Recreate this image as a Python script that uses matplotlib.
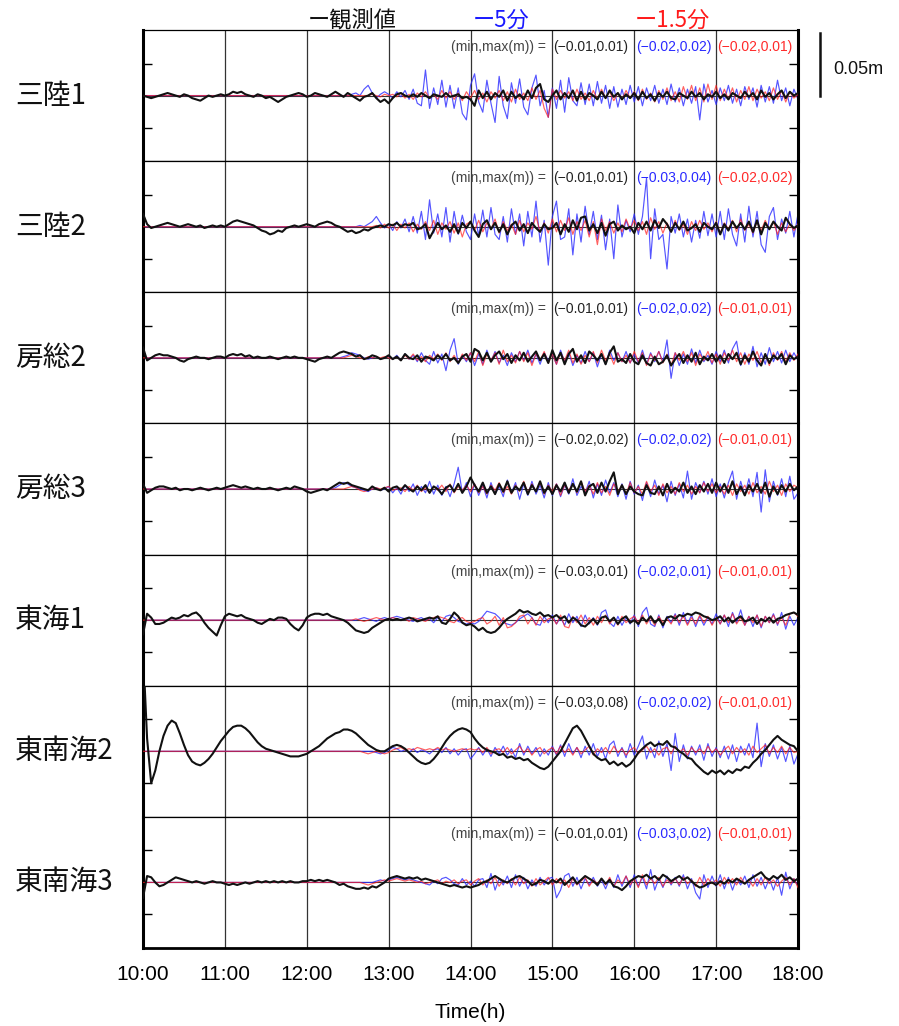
import numpy as np
import matplotlib.pyplot as plt
from matplotlib.transforms import blended_transform_factory

# sampling: every 3 minutes from 10:00 to 18:00 (values in mm)
T0 = 10.0
STEP_H = 0.05

STATIONS = ["三陸1", "三陸2", "房総2", "房総3", "東海1", "東南海2", "東南海3"]
OBS_RANGE = ["(−0.01,0.01)", "(−0.01,0.01)", "(−0.01,0.01)", "(−0.02,0.02)",
             "(−0.03,0.01)", "(−0.03,0.08)", "(−0.01,0.01)"]
MIN5_RANGE = ["(−0.02,0.02)", "(−0.03,0.04)", "(−0.02,0.02)", "(−0.02,0.02)",
              "(−0.02,0.01)", "(−0.02,0.02)", "(−0.03,0.02)"]
MIN15_RANGE = ["(−0.02,0.01)", "(−0.02,0.02)", "(−0.01,0.01)", "(−0.01,0.01)",
               "(−0.01,0.01)", "(−0.01,0.01)", "(−0.01,0.01)"]
TICK_LABELS = ["10:00", "11:00", "12:00", "13:00", "14:00", "15:00", "16:00", "17:00", "18:00"]

# ---- 三陸1 ----
sanriku1_obs = [
    0, -1, -2, -1, 0, 1, 2, 1, 0, -1, 1, 0, -2, -3, -4, -2, 0, -1, 0, 1,
    0, 1, 3, 2, 3, 1, 0, -1, 1, 0, -2, -1, -3, -5, -3, -1, 0, 1, 2, 1,
    -1, 0, 2, 1, 0, -1, 1, 3, 1, -1, 2, 0, -2, -4, -1, 0, 2, -2, -5, -3,
    -6, -2, 1, 2, 0, -1, 1, -1, 2, 0, -2, 1, 0, -1, 2, -1, 0, 1, -2, -1,
    -3, -8, 4, -2, 3, -3, 2, -1, 4, -4, 3, -2, 1, -3, 4, -2, 6, 9, -3, -5,
    0, 4, -3, 2, -2, 4, -4, 3, -3, 2, 0, -3, 3, -2, 4, -1, 2, -3, 1, -2,
    2, -3, 3, -2, 1, -4, 2, -1, 3, -2, -3, 2, 0, -2, 3, -1, 2, -3, 1, -1,
    3, -2, 1, -3, 2, 0, -2, 3, -1, 2, -3, 4, -1, 2, -3, 1, 4, -2, 3, 0, 2,
]
sanriku1_5min = [
    0, 0, 0, 0, 0, 0, 0, 0, 0, 0, 0, 0, 0, 0, 0, 0, 0, 0, 0, 0,
    0, 0, 0, 0, 0, 0, 0, 0, 0, 0, 0, 0, 0, 0, 0, 0, 0, 0, 0, 0,
    0, 0, 0, 0, 0, 0, 0, 0, 0, 0, 0, 1, 2, 0, 5, 8, 2, -2, 1, 3,
    1, -2, 3, -1, 4, -3, 5, -6, -8, 20, -10, 6, -7, 12, -9, 8, -10, 6, -14, -19,
    8, 17, -5, -13, 12, -6, -21, 15, -8, -18, 10, -6, 13, -9, -15, 6, 16, -8, 4, -17,
    6, -10, 12, -13, 14, -4, -8, 10, -7, 9, -8, 11, -6, 8, -10, 7, -9, 5, -7, 8,
    -5, 7, -8, 6, -4, 8, -6, 5, -7, 9, -5, 6, -8, 5, -6, 7, -19, 9, -5, 4,
    -7, 6, -4, 8, -6, 5, -8, 7, -3, 6, -9, 8, -5, 7, -6, 12, -4, 6, -8, 5, -3,
]
sanriku1_15min = [
    0, 0, 0, 0, 0, 0, 0, 0, 0, 0, 0, 0, 0, 0, 0, 0, 0, 0, 0, 0,
    0, 0, 0, 0, 0, 0, 0, 0, 0, 0, 0, 0, 0, 0, 0, 0, 0, 0, 0, 0,
    0, 0, 0, 0, 0, 0, 0, 0, 0, 0, 0, 0, 0, 0, 0, 0, 1, 0, -1, 1,
    0, 1, -1, 2, -2, 1, -3, 2, -1, 3, -2, 1, -3, 4, -2, 3, -3, 2, -4, 3,
    -2, 4, -3, 2, -5, 3, -2, 4, -4, 3, -5, 5, -3, 2, -4, 6, -3, 4, -10, -17,
    5, -3, 4, -2, 3, -4, 5, -3, 2, -4, 4, -3, 5, -2, 3, -4, 2, -3, 4, -2,
    3, -4, 5, -3, 2, -5, 4, -3, 6, -4, 3, -5, 7, -3, 8, -4, 6, -5, 9, -3,
    8, -4, 5, -3, 6, -5, 4, -3, 7, -4, 5, -2, 3, -4, 6, -3, 4, -5, 3, -2, 1,
]

# ---- 三陸2 ----
sanriku2_obs = [
    10, 2, -1, 0, 1, 2, 3, 2, 1, 0, 1, 2, 1, 0, 1, -1, 0, 1, 0, 1,
    0, 2, 4, 5, 4, 3, 2, 1, -1, -3, -4, -6, -5, -3, -4, -1, 0, 1, 0, 1,
    2, 1, 0, 2, 3, 4, 3, 1, 0, -2, -4, -3, -5, -4, -2, -3, -1, 0, 1, 0,
    2, 1, 3, 0, 2, 1, 3, -2, -1, 2, -9, -3, 3, -2, 1, -4, 2, -5, 3, -1,
    4, -3, -8, 2, 5, -2, 3, -4, 2, -6, 1, 4, -3, 2, -5, 3, -1, -4, 2, -2,
    -1, 3, -6, 2, -4, 5, -2, 7, 8, -3, 2, -5, 3, -7, 2, 4, -3, 1, -2, 0,
    -5, 3, -2, 4, -3, 5, -1, 6, 2, -4, 3, -2, 4, -3, -1, 2, -4, 3, 0, -2,
    3, -6, 2, -3, 4, -1, 3, -2, 4, -4, 5, -6, 3, -2, 4, 0, -3, 7, 2, -1, 1,
]
sanriku2_5min = [
    0, 0, 0, 0, 0, 0, 0, 0, 0, 0, 0, 0, 0, 0, 0, 0, 0, 0, 0, 0,
    0, 0, 0, 0, 0, 0, 0, 0, 0, 0, 0, 0, 0, 0, 0, 0, 0, 0, 0, 0,
    0, 0, 0, 0, 0, 0, 0, 0, 0, 0, 0, 0, 0, 1, 0, 2, 4, 8, 3, -1,
    2, -3, 4, -1, 6, -4, 8, -5, 12, -10, 21, -5, 10, -8, 15, -12, 12, -6, 9, -4,
    -10, 10, -7, 13, -8, 15, -6, -10, 8, -12, 14, -6, 10, -15, 12, -8, 20, -12, 5, -30,
    8, 20, -10, -8, 14, -22, 10, -12, 16, -6, 12, -10, 9, -18, 6, -25, 17, -8, 5, -4,
    10, -6, 8, 38, -25, 14, -10, -6, -33, 8, -5, 10, -8, 6, -12, 5, -9, 12, -7, 10,
    -8, 12, -10, 14, -6, -15, 10, -12, 16, -8, 12, -14, -20, 8, 15, -10, 6, -5, 12, -8, 10,
]
sanriku2_15min = [
    0, 0, 0, 0, 0, 0, 0, 0, 0, 0, 0, 0, 0, 0, 0, 0, 0, 0, 0, 0,
    0, 0, 0, 0, 0, 0, 0, 0, 0, 0, 0, 0, 0, 0, 0, 0, 0, 0, 0, 0,
    0, 0, 0, 0, 0, 0, 0, 0, 0, 0, 0, 0, 0, 0, 0, 0, 0, 1, -1, 2,
    -1, 2, -3, 2, -1, 3, -4, 2, -2, 4, -3, 5, -6, 3, -2, 4, -5, 3, -8, 2,
    4, -3, 5, -4, 3, -2, 6, -5, 4, -3, 2, -6, 5, -4, 3, -2, 8, -4, 3, -5,
    6, -4, 5, -3, 7, -6, 4, -3, 5, -8, 4, -14, 6, -3, 4, -5, 3, -4, 6, -2,
    5, -3, 4, -6, 7, -2, 4, -5, 3, -4, 5, -3, 2, -6, 4, -3, 5, -2, 3, -4,
    4, -5, 3, -2, 5, -4, 6, -3, 2, -5, 4, -3, 5, -2, 4, -6, 3, -4, 2, -3, 2,
]

# ---- 房総2 ----
boso2_obs = [
    8, -2, 0, 2, 3, 2, 2, 1, 0, -2, -3, -1, 0, 1, 0, 0, -1, 0, 1, 1,
    0, 2, 3, 2, 3, 1, 2, 0, 1, 0, 0, 1, 0, -1, 0, 1, 0, 1, 0, 0,
    -1, -2, -3, -1, 0, 1, 0, 2, 4, 5, 4, 3, 1, 2, -1, 0, 2, 1, -1, 0,
    2, -1, 1, -2, 3, 0, -1, 2, -3, 1, 0, -2, 2, -1, 3, -2, 0, -4, 1, 3,
    -3, 7, 5, -2, 4, -3, 2, 5, -1, 3, -4, 2, -2, 4, -3, 1, 5, -2, 3, -4,
    6, -2, 4, -5, 3, 7, -3, 2, -4, 5, 2, -2, 3, -5, 4, 9, -3, -1, -4, 3,
    -3, -5, 2, -4, -6, 1, -5, -3, 2, -6, -1, 3, -4, 2, -3, 4, -5, 1, -2, 3,
    -3, 2, -4, 3, -1, 4, -5, 2, -3, 5, -2, -6, 3, -4, 2, -1, 3, -5, 2, -1, 1,
]
boso2_5min = [
    0, 0, 0, 0, 0, 0, 0, 0, 0, 0, 0, 0, 0, 0, 0, 0, 0, 0, 0, 0,
    0, 0, 0, 0, 0, 0, 0, 0, 0, 0, 0, 0, 0, 0, 0, 0, 0, 0, 0, 0,
    0, 0, 0, 0, 0, 0, 0, 0, 0, 1, 2, 4, 3, 2, 0, -1, 0, 1, -1, 0,
    1, -1, 2, -2, 3, -1, 2, -3, 4, -2, -5, 5, -4, 3, -10, 6, 15, -5, 2, -3,
    4, -6, 3, -5, 6, -3, 5, -4, 2, -6, 4, -3, 5, -2, 6, -4, 3, -5, 4, -2,
    3, -5, 6, -3, 4, -6, 2, -4, 5, -3, 4, -7, 3, -5, 6, -2, 4, -3, 5, -4,
    3, -4, 6, -5, 4, -3, 5, -3, 14, -16, 4, -6, 3, -5, 7, -4, 6, -3, 2, -5,
    5, -3, 6, -4, 7, 13, -6, 4, -5, 9, -7, 4, -5, 8, -3, 5, -4, 6, -3, 4, -2,
]
boso2_15min = [
    0, 0, 0, 0, 0, 0, 0, 0, 0, 0, 0, 0, 0, 0, 0, 0, 0, 0, 0, 0,
    0, 0, 0, 0, 0, 0, 0, 0, 0, 0, 0, 0, 0, 0, 0, 0, 0, 0, 0, 0,
    0, 0, 0, 0, 0, 0, 0, 0, 0, 0, 1, 2, 1, 0, -1, 1, 0, 1, 0, 1,
    0, -1, 1, -2, 2, -1, 3, -2, 1, -3, 2, -1, 3, -2, 4, -3, 2, -4, 3, -2,
    4, -3, 5, -6, 3, -2, 4, -5, 6, -3, 2, -4, 5, -3, 4, -6, 3, -2, 5, -4,
    3, -5, 4, -2, 6, -4, 3, -5, 2, -3, 5, -4, 6, -2, 3, -5, 4, -3, 2, -4,
    5, -3, 4, -6, 3, -2, 5, -4, 3, -6, 4, -2, 5, -3, 4, -6, 3, -2, 5, -4,
    3, -5, 4, -2, 6, -3, 4, -5, 3, -2, 5, -4, 3, -6, 4, -2, 5, -3, 4, -2, 3,
]

# ---- 房総3 ----
boso3_obs = [
    4, -3, -1, 1, 2, 2, 1, 0, 1, -1, 0, 0, -1, 0, 1, 0, -1, 0, 1, 0,
    1, 2, 3, 2, 1, 2, 1, 0, 1, 0, 0, 1, 0, -1, 0, 1, 0, 2, 1, 0,
    -2, -3, -2, -1, 0, -1, 1, 3, 5, 4, 5, 3, 2, 1, 0, -1, 2, 0, -1, 1,
    -2, 1, 2, -1, 3, 0, -2, 2, -1, 3, -3, 2, 0, -4, 1, 3, -2, 4, -3, 2,
    9, 3, -2, 5, -3, 2, -4, 4, -2, 6, -3, 2, -1, 5, -4, 3, -2, 6, -3, 2,
    -4, 3, -2, 5, -3, 4, -2, 6, -5, 2, 4, -3, 5, -2, 6, 13, -4, 3, -4, 2,
    -2, -4, -5, 3, -3, -4, 2, -5, 4, -3, 1, -2, 5, -3, 2, -4, 3, -2, 4, -3,
    5, -2, 4, -3, 6, -4, 2, -5, 3, -2, 4, -3, 5, -6, 2, -4, 3, -2, 4, -1, 2,
]
boso3_5min = [
    0, 0, 0, 0, 0, 0, 0, 0, 0, 0, 0, 0, 0, 0, 0, 0, 0, 0, 0, 0,
    0, 0, 0, 0, 0, 0, 0, 0, 0, 0, 0, 0, 0, 0, 0, 0, 0, 0, 0, 0,
    0, 0, 0, 0, 0, 0, 0, 1, 3, 5, 4, 2, 1, 0, -1, -2, 0, 1, -1, 0,
    2, -3, 1, -4, 3, -2, 4, -5, 2, -3, 6, -4, 3, -5, 2, -6, 4, 17, -3, 5,
    -6, 4, -5, 3, -7, 5, -4, 2, -6, 7, -3, 5, -8, 4, -5, 6, -4, 3, -7, 5,
    -5, 4, -6, 3, -4, 8, -5, 2, -3, 6, -7, 4, -5, 7, -3, 5, -6, 4, -8, 6,
    -4, 3, -9, 5, -6, 7, -4, 3, -10, 6, -5, 4, -7, 14, -8, 5, -3, 6, -4, 8,
    -6, 4, -7, 5, 14, -8, 6, -5, 8, -6, 13, -18, 15, -10, 6, -5, 8, -6, 10, -8, -3,
]
boso3_15min = [
    0, 0, 0, 0, 0, 0, 0, 0, 0, 0, 0, 0, 0, 0, 0, 0, 0, 0, 0, 0,
    0, 0, 0, 0, 0, 0, 0, 0, 0, 0, 0, 0, 0, 0, 0, 0, 0, 0, 0, 0,
    0, 0, 0, 0, 0, 0, 0, 0, 0, 0, 1, 2, 1, -1, -2, -1, 0, 1, 0, 1,
    2, -1, 0, 1, -2, 2, -1, 3, -2, 1, -3, 2, -1, 3, -2, 4, -3, 2, -1, 3,
    -2, 4, -3, 2, -4, 3, -1, 5, -3, 2, -4, 3, -2, 6, -3, 4, -2, 5, -4, 3,
    -2, 4, -5, 3, -1, 4, -3, 6, -2, 3, -4, 5, -3, 2, -5, 4, -2, 3, -4, 5,
    -3, 2, -4, 6, -2, 3, -5, 4, -3, 2, -4, 5, -2, 3, -4, 2, -3, 5, -2, 4,
    -3, 2, -4, 3, -5, 4, -2, 3, -4, 5, -3, 2, -4, 6, -2, 3, -5, 4, -2, 3, 1,
]

# ---- 東海1 ----
tokai1_obs = [
    -11, 5, 2, -3, -3, -2, 0, 2, 1, 2, 4, 3, 5, 6, 3, -2, -6, -9, -12, -4,
    3, 5, 4, 3, 4, 2, 1, 0, -2, -3, -1, 1, 0, 2, 2, 1, -3, -6, -8, -4,
    2, 4, 5, 5, 4, 5, 3, 2, 1, 0, -2, -5, -8, -9, -10, -9, -6, -4, -2, 0,
    1, 0, 1, 0, 1, 2, 1, -1, 0, 1, 2, 1, 3, -2, -3, 1, 6, 3, -2, -4,
    -3, -5, -8, -6, -9, -10, -9, -6, -2, 1, 3, 5, 8, 6, 7, 5, 4, 6, 3, 4,
    2, 4, 1, 3, -2, 2, 0, -4, -5, -2, 1, -3, 2, 3, -1, 2, -3, 1, 3, -2,
    0, -3, 2, -1, 3, -2, 1, -4, 2, 3, 1, 4, 3, 5, 4, 6, 5, 3, 2, 0,
    1, 3, -1, 2, -2, 1, 3, -1, 0, 2, -3, 1, -1, 2, -2, 1, 2, 4, 5, 6, 4,
]
tokai1_5min = [
    0, 0, 0, 0, 0, 0, 0, 0, 0, 0, 0, 0, 0, 0, 0, 0, 0, 0, 0, 0,
    0, 0, 0, 0, 0, 0, 0, 0, 0, 0, 0, 0, 0, 0, 0, 0, 0, 0, 0, 0,
    0, 0, 0, 0, 0, 0, 0, 0, 0, 0, 0, 0, 0, 1, 2, 1, 0, -1, 1, 2,
    1, 2, 3, 2, 1, 0, -1, 1, 2, 0, 1, -2, 2, -1, 3, 4, 2, -1, -2, -3,
    -2, -3, -1, 3, 7, 6, 5, 2, -2, -3, -4, -2, 1, 3, 5, 2, -3, -4, 3, -2,
    4, -3, 2, -4, 5, -2, 3, -5, 4, -3, 2, -4, 6, 8, -2, -5, 3, -4, 2, -3,
    4, -5, 6, 10, -3, -5, 4, -6, 3, -2, 5, -4, 6, -3, 4, -5, 3, -4, 2, -3,
    5, -3, 4, -5, 6, -2, 8, -4, 3, -5, 4, -6, 3, -2, 5, -4, 6, -7, 3, -4, 2,
]
tokai1_15min = [
    0, 0, 0, 0, 0, 0, 0, 0, 0, 0, 0, 0, 0, 0, 0, 0, 0, 0, 0, 0,
    0, 0, 0, 0, 0, 0, 0, 0, 0, 0, 0, 0, 0, 0, 0, 0, 0, 0, 0, 0,
    0, 0, 0, 0, 0, 0, 0, 0, 0, 0, 0, 0, 1, 0, -1, 0, 1, 2, 1, 0,
    1, 2, 1, 0, 1, -1, 2, 1, 0, -1, 1, 2, 3, 2, 1, -1, -2, 1, 2, -1,
    -2, -1, 1, 2, -3, -1, 3, -4, 2, -6, -5, -2, 3, 4, -3, 2, -4, 3, -2, 1,
    2, -3, 4, -5, -6, 3, -2, 4, -3, 2, -4, 3, -2, 4, -3, 2, -4, 3, -2, 1,
    3, -2, 4, -3, 2, -4, 3, -2, 1, -3, 4, -2, 3, -4, 2, -3, 4, -2, 3, -4,
    2, -3, 4, -2, 5, -3, 2, -4, 3, -2, 4, -5, 3, -2, 4, -3, 2, -4, 5, 6, 3,
]

# ---- 東南海2 ----
tonankai2_obs = [
    80, 10, -25, -15, 0, 12, 20, 24, 22, 14, 5, -3, -8, -10, -11, -9, -6, -2, 3, 8,
    12, 16, 19, 20, 20, 18, 15, 11, 7, 4, 2, 1, 0, -1, -2, -3, -4, -4, -4, -3,
    -2, 0, 2, 4, 7, 10, 12, 14, 15, 17, 17, 16, 14, 11, 8, 5, 3, 1, 0, 0,
    2, 4, 5, 4, 2, -1, -4, -7, -9, -10, -9, -6, -2, 3, 8, 12, 15, 17, 18, 17,
    15, 10, 6, 3, 1, 0, -1, -3, -2, -5, -4, -6, -5, -7, -6, -9, -11, -13, -14, -12,
    -8, -4, 0, 6, 12, 18, 20, 16, 10, 4, -2, -5, -7, -6, -10, -8, -11, -9, -12, -10,
    -6, -1, 2, 5, 7, 4, 6, 5, 8, 4, 3, 0, -2, -5, -6, -10, -13, -16, -18, -15,
    -17, -15, -18, -15, -17, -14, -15, -12, -13, -9, -6, -2, 1, 5, 9, 12, 9, 7, 5, 4, 0,
]
tonankai2_5min = [
    0, 0, 0, 0, 0, 0, 0, 0, 0, 0, 0, 0, 0, 0, 0, 0, 0, 0, 0, 0,
    0, 0, 0, 0, 0, 0, 0, 0, 0, 0, 0, 0, 0, 0, 0, 0, 0, 0, 0, 0,
    0, 0, 0, 0, 0, 0, 0, 0, 0, 0, 0, 0, 0, 0, 0, 0, 0, -1, -2, -1,
    1, 3, 2, 0, 1, -1, 2, -1, 1, 0, -2, 1, 2, -1, 3, -2, 2, -3, 1, 2,
    -6, -2, 3, -3, 2, -4, 3, -2, 4, -3, 2, -5, 6, -3, 4, -2, 3, -4, 2, -3,
    4, -3, 5, -4, 6, -2, 3, -5, 4, -3, 6, -4, 3, -6, 5, 8, -4, 3, -5, 6,
    -3, 4, 12, -6, 3, -5, 8, -4, 6, -15, 14, -8, 5, -6, 4, -3, 5, -7, 6, -4,
    3, -5, 4, -6, 5, -8, 4, -3, 6, -5, 22, -12, 6, -4, 5, -6, 3, -8, 4, -10, -2,
]
tonankai2_15min = [
    0, 0, 0, 0, 0, 0, 0, 0, 0, 0, 0, 0, 0, 0, 0, 0, 0, 0, 0, 0,
    0, 0, 0, 0, 0, 0, 0, 0, 0, 0, 0, 0, 0, 0, 0, 0, 0, 0, 0, 0,
    0, 0, 0, 0, 0, 0, 0, 0, 0, 0, 0, 0, 0, 0, -1, -2, -1, 0, -1, -2,
    -1, 1, 2, 3, 1, 2, 1, 3, 2, 1, 2, 1, 3, 1, 2, 1, 0, 1, 2, 1,
    2, 1, 2, -1, 3, -2, 1, 2, -1, 3, -2, 1, 4, -1, 2, -3, 1, 3, -2, 1,
    3, -2, 4, -1, 2, -3, 3, -2, 1, 4, -3, 2, -1, 3, -2, 4, -1, 2, -3, 1,
    3, -2, 1, 4, -1, 2, -3, 2, 3, -2, 4, -1, 2, -3, 3, -1, 2, -2, 4, -1,
    2, -3, 1, 4, -2, 3, -1, 2, -3, 4, -1, 2, 5, -2, 3, -1, 4, -2, 3, -1, 0,
]

# ---- 東南海3 ----
tonankai3_obs = [
    -12, 5, 4, 0, -3, -2, 0, 2, 4, 3, 2, 1, 0, 1, 0, -1, 0, 1, 0, 0,
    -1, -2, -1, -2, -1, 0, -1, 0, 1, 0, 1, 0, 1, 0, 1, 0, 1, 0, 0, 1,
    1, 2, 1, 2, 1, 2, 1, 0, -2, -1, -3, -4, -5, -5, -4, -5, -3, -4, -2, 0,
    3, 4, 5, 4, 3, 4, 3, 4, 2, 3, 2, 1, 0, -1, -2, -3, -2, -3, -4, -3,
    -4, -3, -2, 0, 1, 3, 5, 3, 1, 0, 2, 4, 5, 3, 1, -2, -1, 2, 1, -1,
    2, 0, 3, -2, 1, 4, -1, 2, 5, 3, 1, -2, 3, -1, 2, -3, -4, -6, -3, 1,
    3, 5, 4, 6, 3, 5, 2, 6, 4, 1, 3, 5, 2, 4, 1, -2, -4, -3, -1, 0,
    -2, 1, -1, 2, 0, 3, 1, -1, 2, 4, 6, 8, 4, 2, 5, 3, 6, 2, 4, 1, 3,
]
tonankai3_5min = [
    0, 0, 0, 0, 0, 0, 0, 0, 0, 0, 0, 0, 0, 0, 0, 0, 0, 0, 0, 0,
    0, 0, 0, 0, 0, 0, 0, 0, 0, 0, 0, 0, 0, 0, 0, 0, 0, 0, 0, 0,
    0, 0, 0, 0, 0, 0, 0, 0, 0, 0, 0, 0, 0, 0, 0, 0, 0, 1, 2, 1,
    2, 3, 4, 3, 2, 3, 2, 1, 0, -1, -2, 1, -1, 3, 4, 2, -1, -2, 3, -2,
    1, -3, 2, 3, -4, 7, -6, 3, -2, 5, -4, 6, -3, 4, -5, 2, -3, 4, -2, 3,
    4, -12, -6, 5, 7, -3, 4, -5, 3, -2, 4, -3, 2, -5, 3, -4, 6, -3, 5, -4,
    6, -3, 4, -5, 10, -6, 3, -4, 5, -2, 4, -3, 6, -5, 3, -8, -13, 6, -4, 5,
    -3, 6, -5, 4, -6, 3, -2, 5, -4, 6, -3, 4, -5, 3, -6, 4, -10, 8, -5, 3, -3,
]
tonankai3_15min = [
    0, 0, 0, 0, 0, 0, 0, 0, 0, 0, 0, 0, 0, 0, 0, 0, 0, 0, 0, 0,
    0, 0, 0, 0, 0, 0, 0, 0, 0, 0, 0, 0, 0, 0, 0, 0, 0, 0, 0, 0,
    0, 0, 0, 0, 0, 0, 0, 0, 0, 0, 0, 0, 0, 0, -1, -2, -1, 0, 1, 2,
    1, 2, 3, 2, 1, 2, 1, 0, 1, -1, 0, 1, 2, -1, 1, 0, 2, -1, 1, 2,
    -2, 1, 3, -2, 2, -1, 4, -3, 2, -1, 3, -2, 4, -1, 2, -3, 3, -2, 1, 4,
    -2, 3, -1, 2, -4, 3, -2, 1, 4, -3, 2, -1, 3, -2, 4, -3, 2, -1, 5, -2,
    3, -4, 6, -2, 3, -1, 4, -3, 2, -1, 3, -2, 4, -1, 2, -3, 4, -2, 3, -1,
    2, -3, 4, -1, 3, -2, 4, -1, 2, -3, 3, -2, 4, -1, 2, -3, 1, 4, -2, 3, -4,
]

PANELS = [
    (sanriku1_obs, sanriku1_5min, sanriku1_15min),
    (sanriku2_obs, sanriku2_5min, sanriku2_15min),
    (boso2_obs, boso2_5min, boso2_15min),
    (boso3_obs, boso3_5min, boso3_15min),
    (tokai1_obs, tokai1_5min, tokai1_15min),
    (tonankai2_obs, tonankai2_5min, tonankai2_15min),
    (tonankai3_obs, tonankai3_5min, tonankai3_15min),
]

CJK = ["Noto Sans CJK JP", "DejaVu Sans"]
plt.rcParams["font.family"] = ["Liberation Sans", "DejaVu Sans"]

W, H = 899, 1026
fig = plt.figure(figsize=(W / 100, H / 100), dpi=100)
left, right = 143 / W, 798 / W
top_px, bot_px = 30, 948
ph = (bot_px - top_px) / 7 / H
YLIM = 0.0512

BLUE = "#2a2aff"
RED = "#ff1c1c"

axes = []
for i, (obs, m5, m15) in enumerate(PANELS):
    y0 = 1 - top_px / H - (i + 1) * ph
    ax = fig.add_axes([left, y0, right - left, ph])
    axes.append(ax)
    t_obs = T0 + np.arange(len(obs)) * STEP_H
    t_m5 = T0 + np.arange(len(m5)) * STEP_H
    t_m15 = T0 + np.arange(len(m15)) * STEP_H
    ax.axhline(0, color="#333333", lw=0.8, zorder=1)
    ax.plot(t_m5, np.array(m5) / 1000, color=BLUE, lw=0.85, alpha=0.8, zorder=2)
    ax.plot(t_m15, np.array(m15) / 1000, color=RED, lw=0.85, alpha=0.7, zorder=3)
    ax.plot(t_obs, np.array(obs) / 1000, color="#111111", lw=1.5, zorder=4)

    ax.set_xlim(10, 18)
    ax.set_ylim(-YLIM, YLIM)
    ax.set_xticks(range(10, 19))
    ax.grid(axis="x", color="#333333", lw=0.9)
    ax.set_yticks([-0.025, 0.025])
    ax.tick_params(axis="y", direction="in", length=6.5, width=1,
                   left=True, right=True, labelleft=False)
    ax.tick_params(axis="x", length=0, labelbottom=(i == 6), labelsize=15, pad=12)
    for s in ("left", "right"):
        ax.spines[s].set_linewidth(2.2)
    ax.spines["top"].set_linewidth(0.9)
    ax.spines["bottom"].set_linewidth(2.0 if i == 6 else 0.9)
    if i == 6:
        ax.set_xticklabels(TICK_LABELS)

    ax.text(0.6153, 0.87, "(min,max(m)) =", transform=ax.transAxes,
            fontsize=10, color="#444444", ha="right", va="center")
    ax.text(0.626, 0.87, OBS_RANGE[i], transform=ax.transAxes,
            fontsize=10, color="#222222", ha="left", va="center")
    ax.text(0.7527, 0.87, MIN5_RANGE[i], transform=ax.transAxes,
            fontsize=10, color="#2a2aff", ha="left", va="center")
    ax.text(0.8763, 0.87, MIN15_RANGE[i], transform=ax.transAxes,
            fontsize=10, color="#ff2a2a", ha="left", va="center")

    yc = 1 - (top_px + (i + 0.5) * (bot_px - top_px) / 7) / H
    fig.text(15 / W, yc, STATIONS[i], ha="left", va="center",
             fontsize=20, family=CJK, color="#111111")

# legend texts along the top
fig.text(308 / W, 1 - 20 / H, "ー観測値", family=CJK, fontsize=16,
         color="#111111", ha="left", va="center")
fig.text(473 / W, 1 - 20 / H, "ー5分", family=CJK, fontsize=16,
         color="#1a1aff", ha="left", va="center")
fig.text(635 / W, 1 - 20 / H, "ー1.5分", family=CJK, fontsize=16,
         color="#ff1a1a", ha="left", va="center")

# 0.05 m scale bar next to the first panel
ax0 = axes[0]
trans = blended_transform_factory(ax0.transAxes, ax0.transData)
ax0.plot([1.0336, 1.0336], [0.0, 0.049], transform=trans, color="#111111",
         lw=1.8, clip_on=False)
ax0.text(1.0534, 0.0203, "0.05m", transform=trans, fontsize=13,
         ha="left", va="center", color="#111111")

fig.text(470.5 / W, 1 - 1013 / H, "Time(h)", ha="center", va="center", fontsize=15)

fig.savefig("out.png", dpi=100)
